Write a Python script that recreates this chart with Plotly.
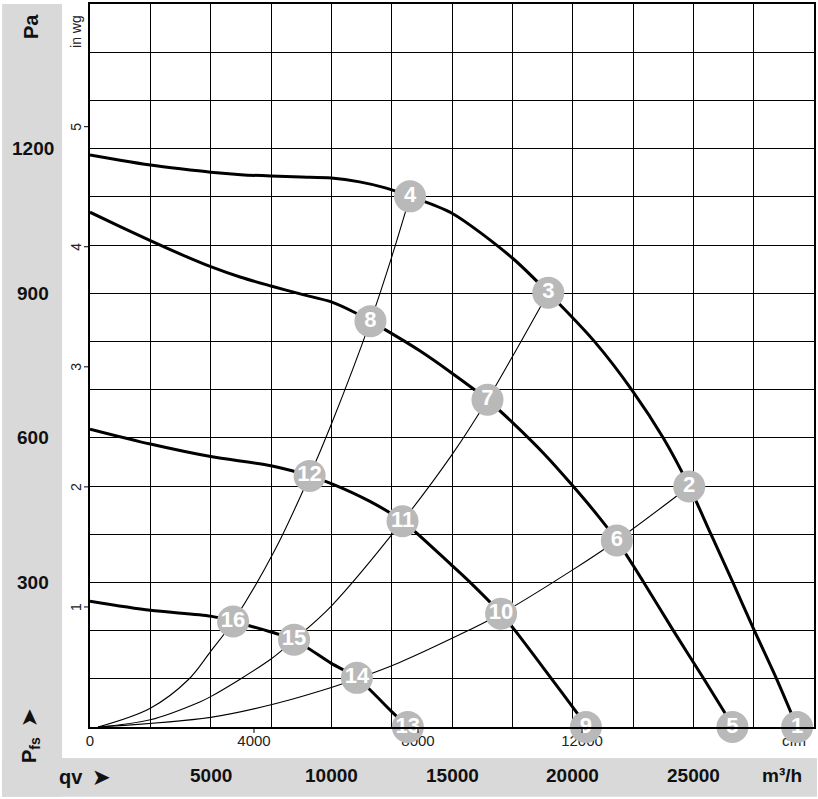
import plotly.graph_objects as go

# ---------------- data ----------------
# fan characteristic curves: flow qv [m3/h], static pressure pfs [Pa]
fan1_q = [0, 1250, 2500, 3750, 5000, 6250, 7500, 8750, 10000, 11170, 12200, 13260,
          15000, 17500, 18990, 20900, 22500, 23750, 24830, 25720, 26620, 27520, 28440, 29300]
fan1_p = [1187, 1176, 1166, 1158, 1151, 1146, 1143, 1141, 1139, 1131, 1119, 1101,
          1066, 973, 901, 800, 696, 600, 499, 401, 302, 201, 101, 0]

fan2_q = [0, 1250, 2500, 3750, 5000, 6250, 7500, 8750, 10000, 10970, 11620, 13650,
          15000, 16470, 17500, 18830, 19940, 21100, 21830, 22920, 24160, 25420, 26670]
fan2_p = [1068, 1038, 1009, 981, 955, 933, 915, 898, 882, 860, 842, 781,
          734, 679, 632, 566, 504, 435, 387, 302, 201, 101, 0]

fan3_q = [0, 2500, 5000, 7500, 9100, 10000, 11600, 12950, 15000, 15710, 17030,
          17600, 19110, 20140, 20600]
fan3_p = [618, 587, 561, 542, 521, 505, 468, 427, 335, 302, 235,
          201, 101, 32, 0]

fan4_q = [0, 2500, 5000, 5930, 7500, 8455, 10000, 11060, 12500, 13170]
fan4_p = [261, 242, 230, 219, 197, 181, 132, 102, 32, 0]

# system (resistance) curves
sys1_q = [330, 2500, 4070, 5000, 5930, 7650, 9100, 10000, 11620, 12500, 13260]
sys1_p = [0, 39, 98, 157, 219, 366, 521, 628, 842, 975, 1101]

sys2_q = [330, 2500, 4550, 5000, 7500, 8455, 10000, 12950, 15000, 16470, 17500, 18990]
sys2_p = [0, 15, 52, 63, 141, 181, 251, 427, 565, 679, 768, 901]

sys3_q = [330, 5000, 7500, 10000, 11060, 12830, 15000, 17030, 20000, 21830, 24830]
sys3_p = [0, 20, 46, 82, 100, 134, 184, 235, 326, 387, 499]

# operating points
pt_labels = [str(i) for i in range(1, 17)]
pt_q = [29300, 24830, 18990, 13260, 26620, 21830, 16470, 11620,
        20550, 17035, 12950, 9100, 13170, 11060, 8455, 5930]
pt_p = [0, 499, 901, 1101, 0, 387, 679, 842,
        0, 235, 427, 521, 0, 102, 181, 219]

# axis tick labels
pa_ticks = [300, 600, 900, 1200]
m3h_ticks = [5000, 10000, 15000, 20000, 25000]
inwg_ticks = [1, 2, 3, 4, 5]
cfm_ticks = [0, 4000, 8000, 12000]
PA_PER_INWG = 249.09
M3H_PER_CFM = 1.699

# ---------------- layout geometry ----------------
W, H = 818, 799
L, R, T, B = 90, 3, 2, 72
PW = W - L - R
PH = H - T - B
X_MAX, Y_MAX = 30000, 1500


def px_x(px):
    return (px - L) / PW


def px_y(py):
    return (H - B - py) / PH


def data_x(px):
    return (px - L) / PW * X_MAX


GRAY = "#d9d9d9"
MARK = "#b9b9b9"
FONT = "Liberation Sans, Arial, sans-serif"

fig = go.Figure()

for q, p in [(sys1_q, sys1_p), (sys2_q, sys2_p), (sys3_q, sys3_p)]:
    fig.add_trace(go.Scatter(x=q, y=p, mode="lines",
                             line=dict(color="black", width=1.1, shape="spline", smoothing=1.0),
                             hoverinfo="skip", showlegend=False))

for q, p in [(fan1_q, fan1_p), (fan2_q, fan2_p), (fan3_q, fan3_p), (fan4_q, fan4_p)]:
    fig.add_trace(go.Scatter(x=q, y=p, mode="lines",
                             line=dict(color="black", width=3, shape="spline", smoothing=0.8),
                             hoverinfo="skip", showlegend=False))

# cfm labels (drawn under the markers): anchored on the axis, text placed below
cfm_x = [c * M3H_PER_CFM for c in cfm_ticks] + [data_x(795)]
cfm_txt = [str(c) for c in cfm_ticks] + ["cfm"]
fig.add_trace(go.Scatter(x=cfm_x, y=[0] * len(cfm_x), mode="markers+text",
                         text=cfm_txt, textposition="bottom center",
                         marker=dict(size=11, color="rgba(0,0,0,0)", line=dict(width=0)),
                         textfont=dict(family=FONT, size=15, color="#222222"),
                         cliponaxis=False, hoverinfo="skip", showlegend=False))

# operating-point markers
fig.add_trace(go.Scatter(x=pt_q, y=pt_p, mode="markers+text", text=pt_labels,
                         textposition="middle center",
                         marker=dict(size=32, color=MARK, line=dict(width=0)),
                         textfont=dict(family=FONT, size=22, color="white", weight="bold"),
                         cliponaxis=False, hoverinfo="skip", showlegend=False))

shapes = [
    # left gray band
    dict(type="rect", xref="paper", yref="paper", x0=px_x(2), x1=px_x(62),
         y0=px_y(797), y1=px_y(2), fillcolor=GRAY, line=dict(width=0), layer="below"),
    # bottom gray band
    dict(type="rect", xref="paper", yref="paper", x0=px_x(2), x1=px_x(818),
         y0=px_y(797), y1=px_y(758), fillcolor=GRAY, line=dict(width=0), layer="below"),
]
for v in inwg_ticks:
    shapes.append(dict(type="line", xref="paper", yref="y", x0=px_x(84), x1=0,
                       y0=v * PA_PER_INWG, y1=v * PA_PER_INWG,
                       line=dict(color="black", width=1)))
for c in cfm_ticks[1:]:
    shapes.append(dict(type="line", xref="x", yref="paper",
                       x0=c * M3H_PER_CFM, x1=c * M3H_PER_CFM, y0=0, y1=px_y(733),
                       line=dict(color="black", width=1)))

ann = []
BOLD = dict(family=FONT, size=19, color="#111111", weight="bold")
for v in pa_ticks:
    ann.append(dict(x=px_x(33), xref="paper", y=v, yref="y", text=str(v),
                    showarrow=False, font=BOLD, xanchor="center", yanchor="middle"))
for v in m3h_ticks:
    ann.append(dict(x=v, xref="x", y=px_y(776), yref="paper", text=str(v),
                    showarrow=False, font=BOLD, xanchor="center", yanchor="middle"))
ann.append(dict(x=px_x(783), xref="paper", y=px_y(776), yref="paper", text="m³/h",
                showarrow=False, font=BOLD, xanchor="center", yanchor="middle"))
ann.append(dict(x=px_x(84), xref="paper", y=px_y(777), yref="paper",
                text="qv  ➤", showarrow=False,
                font=dict(family=FONT, size=20, color="#111111", weight="bold"),
                xanchor="center", yanchor="middle"))
ann.append(dict(x=px_x(31), xref="paper", y=px_y(25), yref="paper", text="Pa",
                showarrow=False, textangle=-90,
                font=dict(family=FONT, size=20, color="#111111", weight="bold"),
                xanchor="center", yanchor="middle"))
ann.append(dict(x=px_x(31), xref="paper", y=px_y(736), yref="paper",
                text="P<sub>fs</sub>  ➤", showarrow=False, textangle=-90,
                font=dict(family=FONT, size=20, color="#111111", weight="bold"),
                xanchor="center", yanchor="middle"))
for v in inwg_ticks:
    ann.append(dict(x=px_x(76), xref="paper", y=v * PA_PER_INWG, yref="y", text=str(v),
                    showarrow=False, textangle=-90,
                    font=dict(family=FONT, size=14, color="#222222"),
                    xanchor="center", yanchor="middle"))
ann.append(dict(x=px_x(76), xref="paper", y=px_y(30), yref="paper", text="in wg",
                showarrow=False, textangle=-90,
                font=dict(family=FONT, size=14, color="#222222"),
                xanchor="center", yanchor="middle"))

fig.update_layout(
    width=W, height=H,
    margin=dict(l=L, r=R, t=T, b=B, pad=0),
    paper_bgcolor="white", plot_bgcolor="white",
    shapes=shapes, annotations=ann, showlegend=False,
    xaxis=dict(range=[0, X_MAX], dtick=2500, tick0=0, showgrid=True,
               gridcolor="black", gridwidth=1.3, showticklabels=False, ticks="",
               zeroline=False, showline=True, linecolor="black", linewidth=1.5,
               mirror=True, fixedrange=True),
    yaxis=dict(range=[0, Y_MAX], dtick=100, tick0=0, showgrid=True,
               gridcolor="black", gridwidth=1.3, showticklabels=False, ticks="",
               zeroline=False, showline=True, linecolor="black", linewidth=1.5,
               mirror=True, fixedrange=True),
)

fig.write_html("out.html")
